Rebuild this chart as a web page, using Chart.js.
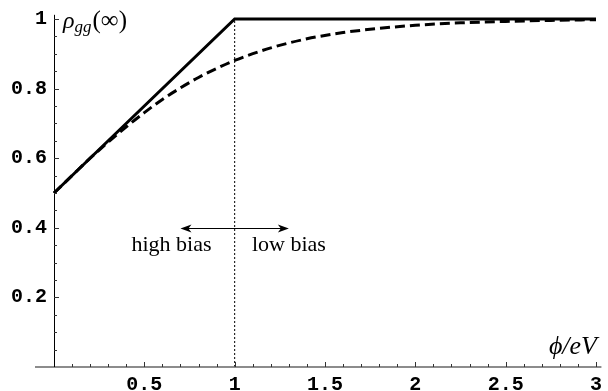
<!DOCTYPE html>
<html lang="en">
<head>
    <meta charset="UTF-8">
    <title>rho_gg vs phi/eV</title>
    <script src="https://cdn.jsdelivr.net/npm/chart.js@4.4.1/dist/chart.umd.min.js"></script>
    <style>
        html, body { margin: 0; padding: 0; background: #fff; }
        .chart-container { position: relative; width: 608px; height: 391px; }
    </style>
</head>
<body>
    <div class="chart-container">
        <canvas id="rhoChart"></canvas>
    </div>

    <script>
        // Data
        const solidPhi = [0, 1, 3];
        const solidRho = [0.5, 1, 1];

        const dashedPhi = [0, 0.1, 0.2, 0.3, 0.4, 0.5, 0.6, 0.7, 0.8, 0.9, 1.0, 1.2, 1.4, 1.6, 1.8, 2.0, 2.25, 2.5, 2.75, 3.0];
        const dashedRho = [0.5, 0.55, 0.6, 0.646, 0.69, 0.731, 0.769, 0.802, 0.832, 0.858, 0.881, 0.917, 0.943, 0.961, 0.973, 0.982, 0.989, 0.993, 0.996, 0.998];

        const boundaryPhi = [1, 1];
        const boundaryRho = [0, 1];

        const xTicks = [0.5, 1, 1.5, 2, 2.5, 3];
        const yTicks = [0.2, 0.4, 0.6, 0.8, 1];

        function toPoints(xs, ys) {
            return xs.map((x, i) => ({ x: x, y: ys[i] }));
        }

        const tickFont = { family: "'Liberation Mono', 'DejaVu Sans Mono', monospace", size: 20, weight: 'bold' };

        // axes, small ticks, arrow and labels (Mathematica style)
        const decorations = {
            id: 'decorations',
            afterDraw(chart) {
                const ctx = chart.ctx;
                const xs = chart.scales.x;
                const ys = chart.scales.y;
                const x0 = xs.getPixelForValue(0);
                const y0 = ys.getPixelForValue(0);
                ctx.save();

                // x axis
                ctx.strokeStyle = '#666';
                ctx.lineWidth = 1.6;
                ctx.beginPath();
                ctx.moveTo(x0 - 19, y0);
                ctx.lineTo(xs.getPixelForValue(3.03), y0);
                ctx.stroke();

                // y axis
                ctx.strokeStyle = '#000';
                ctx.lineWidth = 1;
                ctx.beginPath();
                ctx.moveTo(x0 + 0.5, y0);
                ctx.lineTo(x0 + 0.5, ys.getPixelForValue(1.012));
                ctx.stroke();

                // ticks
                ctx.strokeStyle = '#333';
                ctx.lineWidth = 1;
                for (let i = 1; i <= 30; i++) {
                    const px = Math.round(xs.getPixelForValue(i / 10)) + 0.5;
                    const len = i % 5 === 0 ? 5 : 3;
                    ctx.beginPath();
                    ctx.moveTo(px, y0);
                    ctx.lineTo(px, y0 - len);
                    ctx.stroke();
                }
                for (let i = 1; i <= 20; i++) {
                    const py = Math.round(ys.getPixelForValue(i / 20)) + 0.5;
                    const len = i % 4 === 0 ? 5 : 3;
                    ctx.beginPath();
                    ctx.moveTo(x0, py);
                    ctx.lineTo(x0 + len, py);
                    ctx.stroke();
                }

                // double arrow
                const ay = Math.round(ys.getPixelForValue(0.4)) + 0.5;
                const ax1 = xs.getPixelForValue(0.7);
                const ax2 = xs.getPixelForValue(1.3);
                ctx.strokeStyle = '#000';
                ctx.fillStyle = '#000';
                ctx.lineWidth = 1;
                ctx.beginPath();
                ctx.moveTo(ax1 + 4, ay);
                ctx.lineTo(ax2 - 4, ay);
                ctx.stroke();
                [[ax1, 1], [ax2, -1]].forEach(([ax, d]) => {
                    ctx.beginPath();
                    ctx.moveTo(ax, ay);
                    ctx.lineTo(ax + d * 11, ay - 4);
                    ctx.lineTo(ax + d * 8, ay);
                    ctx.lineTo(ax + d * 11, ay + 4);
                    ctx.closePath();
                    ctx.fill();
                });

                // text labels
                ctx.textBaseline = 'alphabetic';
                ctx.font = "22px 'Liberation Serif', serif";
                ctx.textAlign = 'center';
                const ty = ys.getPixelForValue(0.4) + 23;
                ctx.fillText('high bias', xs.getPixelForValue(0.65), ty);
                ctx.fillText('low bias', xs.getPixelForValue(1.3), ty);

                // y label: rho_gg(inf)
                ctx.textAlign = 'left';
                let lx = x0 + 9;
                const lyb = ys.getPixelForValue(1) + 9;
                ctx.font = "italic 24px 'Liberation Serif', serif";
                ctx.fillText('\u03C1', lx, lyb);
                lx += ctx.measureText('\u03C1').width;
                ctx.font = "italic 17px 'Liberation Serif', serif";
                ctx.fillText('gg', lx, lyb + 4);
                lx += ctx.measureText('gg').width + 1;
                ctx.font = "25px 'Liberation Serif', serif";
                ctx.fillText('(\u221E)', lx, lyb);

                // x label: phi/eV
                ctx.textAlign = 'right';
                ctx.font = "italic 26px 'Liberation Serif', serif";
                ctx.fillText('\u03D5/eV', xs.getPixelForValue(3) + 1, y0 - 13);

                ctx.restore();
            }
        };

        const ctx = document.getElementById('rhoChart').getContext('2d');
        new Chart(ctx, {
            type: 'scatter',
            data: {
                datasets: [{
                    label: 'boundary',
                    data: toPoints(boundaryPhi, boundaryRho),
                    showLine: true,
                    borderColor: '#000',
                    borderWidth: 1,
                    borderDash: [2, 2],
                    pointRadius: 0
                }, {
                    label: 'dashed',
                    data: toPoints(dashedPhi, dashedRho),
                    showLine: true,
                    borderColor: '#000',
                    borderWidth: 3,
                    borderDash: [10, 5],
                    cubicInterpolationMode: 'monotone',
                    pointRadius: 0,
                    clip: false
                }, {
                    label: 'solid',
                    data: toPoints(solidPhi, solidRho),
                    showLine: true,
                    borderColor: '#000',
                    borderWidth: 3,
                    pointRadius: 0,
                    clip: false
                }]
            },
            options: {
                responsive: true,
                maintainAspectRatio: false,
                animation: false,
                layout: { padding: { top: 17, right: 8, left: 0, bottom: 0 } },
                plugins: {
                    legend: { display: false },
                    tooltip: { enabled: false }
                },
                scales: {
                    x: {
                        type: 'linear',
                        min: 0,
                        max: 3,
                        grid: { display: false, drawTicks: false },
                        border: { display: false },
                        afterBuildTicks: s => { s.ticks = xTicks.map(v => ({ value: v })); },
                        afterFit: s => { s.height = 24; },
                        ticks: {
                            color: '#000',
                            font: tickFont,
                            padding: 6,
                            maxRotation: 0,
                            autoSkip: false,
                            callback: v => String(v)
                        }
                    },
                    y: {
                        type: 'linear',
                        min: 0,
                        max: 1,
                        grid: { display: false, drawTicks: false },
                        border: { display: false },
                        afterBuildTicks: s => { s.ticks = yTicks.map(v => ({ value: v })); },
                        afterFit: s => { s.width = 54; },
                        ticks: {
                            color: '#000',
                            font: tickFont,
                            padding: 7,
                            autoSkip: false,
                            callback: v => String(v)
                        }
                    }
                }
            },
            plugins: [decorations]
        });
    </script>
</body>
</html>
